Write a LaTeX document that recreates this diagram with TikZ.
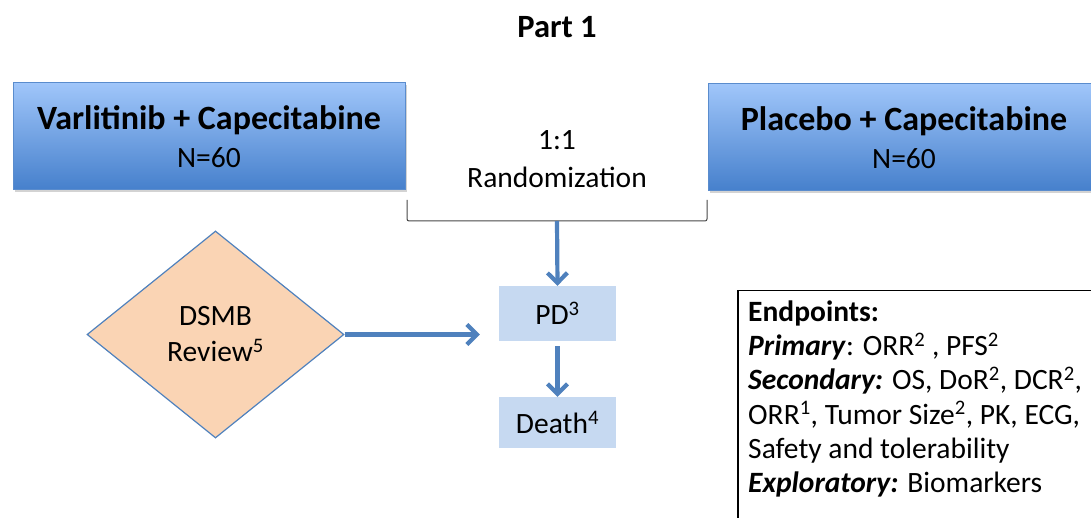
\documentclass[tikz,border=0pt]{standalone}
\usepackage{fontspec}
\setmainfont{Carlito}
\usetikzlibrary{shapes.geometric,arrows.meta,shadows}
\definecolor{boxtop}{RGB}{160,198,250}
\definecolor{boxbot}{RGB}{70,128,204}
\definecolor{boxline}{RGB}{90,140,205}
\definecolor{arrowblue}{RGB}{79,129,189}
\definecolor{paleblue}{RGB}{198,217,241}
\definecolor{peach}{RGB}{250,212,180}
\definecolor{bracketgray}{RGB}{70,70,70}
\tikzset{
  armbox/.style={draw=boxline, line width=1pt, top color=boxtop, bottom color=boxbot,
    minimum width=392pt, minimum height=107pt, inner sep=0pt, align=center,
    drop shadow={shadow xshift=2pt, shadow yshift=-3pt, opacity=0.35}},
  statebox/.style={fill=paleblue, minimum width=117pt, inner sep=0pt},
  flowarrow/.style={draw=arrowblue, line width=4.2pt,
    -{Straight Barb[length=10pt, width=20pt, line width=4.2pt]}},
  bigtxt/.style={font=\fontsize{34}{39}\selectfont\bfseries},
  normtxt/.style={font=\fontsize{29.5}{35}\selectfont},
}
\begin{document}
\begin{tikzpicture}[x=1pt,y=-1pt]
\useasboundingbox (0,0) rectangle (1091,518);
\clip (0,0) rectangle (1091,518);
\node[font=\fontsize{32.5}{38}\selectfont\bfseries] (title) at (557,27) {Part 1};
\node[armbox] (varl) at (209,136) {};
\node[bigtxt] (varltxt) at (209,120) {Varlitinib + Capecitabine};
\node[normtxt] (varln) at (209,158) {N=60};
\node[armbox] (plac) at (904,137) {};
\node[bigtxt] (plactxt) at (904,121) {Placebo + Capecitabine};
\node[normtxt] (placn) at (904,159) {N=60};
\node[normtxt] (rand1) at (557,140) {1:1};
\node[normtxt] (rand2) at (557,177) {Randomization};
\coordinate (bl) at (407,200);
\coordinate (br) at (707,200);
\coordinate (bmid) at (557,221);
\draw[bracketgray, line width=1pt, rounded corners=2pt] (bl) -- (407,221) -- (707,221) -- (br);
\node[statebox, minimum height=55pt, normtxt] (pd) at (557.5,313.5) {PD\textsuperscript{3}};
\node[statebox, minimum height=51pt, normtxt] (death) at (557.5,422.5) {Death\textsuperscript{4}};
\node[diamond, draw=arrowblue, line width=1.2pt, fill=peach, minimum width=257pt, minimum height=207pt,
  inner sep=0pt, normtxt, align=center] (dsmb) at (215.5,334.5) {DSMB\\[1pt]Review\textsuperscript{5}};
\draw[flowarrow] (bmid) -- (pd.north);
\draw[flowarrow] ([yshift=-5pt]pd.south) -- (death.north);
\draw[flowarrow, shorten >=19pt] (dsmb.east) -- (dsmb.east -| pd.west);
\node[draw=black, line width=1.5pt, anchor=north west, minimum width=380pt, minimum height=250pt] (endbox) at (737,290) {};
\node[normtxt, anchor=base west, inner sep=0pt] (e1) at (748,321) {\textbf{Endpoints:}};
\node[normtxt, anchor=base west, inner sep=0pt] (e2) at (748,355.5) {\textbf{\textit{Primary}}: ORR\textsuperscript{2} , PFS\textsuperscript{2}};
\node[normtxt, anchor=base west, inner sep=0pt] (e3) at (748,389.5) {\textbf{\textit{Secondary:}} OS, DoR\textsuperscript{2}, DCR\textsuperscript{2},};
\node[normtxt, anchor=base west, inner sep=0pt] (e4) at (748,424) {ORR\textsuperscript{1}, Tumor Size\textsuperscript{2}, PK, ECG,};
\node[normtxt, anchor=base west, inner sep=0pt] (e5) at (748,458) {Safety and tolerability};
\node[normtxt, anchor=base west, inner sep=0pt] (e6) at (748,492) {\textbf{\textit{Exploratory:}} Biomarkers};
\end{tikzpicture}
\end{document}
